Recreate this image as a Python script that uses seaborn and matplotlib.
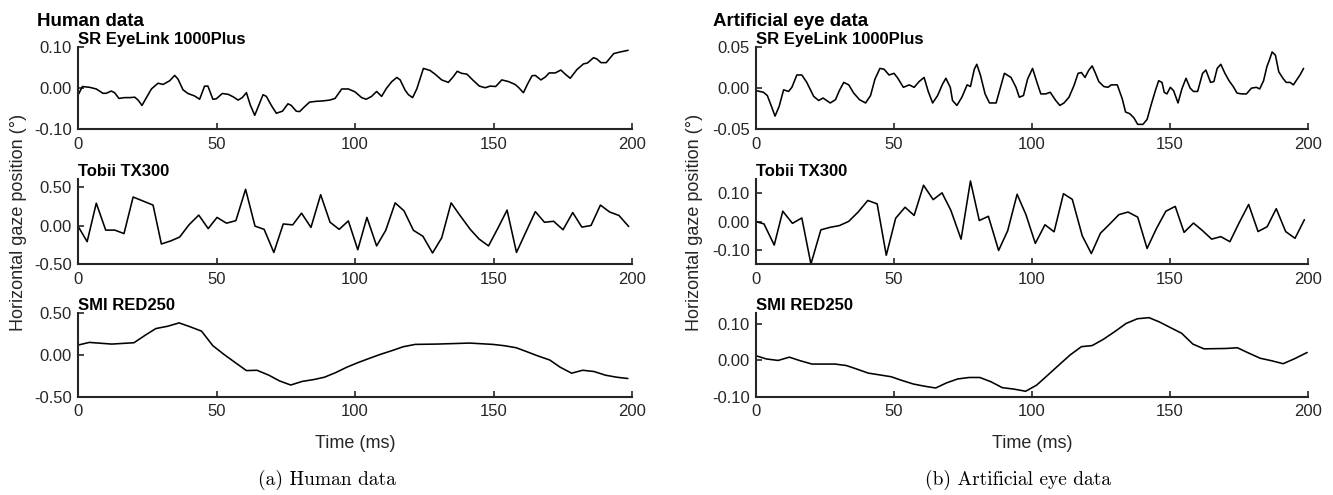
import matplotlib
matplotlib.use("Agg")
import matplotlib.pyplot as plt
import seaborn as sns
import pandas as pd
from matplotlib.ticker import FormatStrFormatter

# ---------------- data ----------------
# Human data – SR EyeLink 1000Plus
human_eyelink_t = [0, 1.6, 4.2, 6.6, 9, 10.2, 12, 13.2, 14.8, 16.8, 18.7, 20.5, 21.7, 23.1, 24.7, 26.5,
                   28.9, 30.7, 33.1, 34.9, 36.1, 37.9, 39.7, 42.1, 43.9, 45.7, 46.9, 48.7, 49.9, 52.1,
                   54.2, 56, 57.8, 59.3, 60.8, 62.2, 63.8, 65.3, 66.8, 68, 69.8, 71.6, 73.8, 75.8, 77,
                   78.8, 80, 81.8, 83.6, 86, 88.4, 90.9,
                   92.8, 95.2, 97.6, 100, 102.4, 104, 106, 107.8, 109.6, 111.4, 113.3, 115.1, 116.3,
                   118.1, 119.3, 120.8, 122.3, 124.7, 127.1, 128.9, 131.3, 133.7, 135.5, 136.9, 138.5,
                   140.4, 142.8, 144.9, 147, 148.8, 150.8, 153, 155.4, 157.8, 159, 160.8, 162.3, 163.9,
                   165.1, 167.1, 168.7, 170.1, 172.3, 174.3, 175.9, 177.7, 180.1, 182.5, 183.9, 186.1,
                   187.3, 188.8, 190.7, 193.4, 195.8, 198.6]
human_eyelink_v = [-0.017, 0.004, 0.002, -0.002, -0.0125, -0.0125, -0.007, -0.011, -0.025, -0.023, -0.023,
                   -0.022, -0.029, -0.042, -0.023, -0.002, 0.012, 0.009, 0.018, 0.031, 0.022, -0.004,
                   -0.013, -0.019, -0.027, 0.005, 0.005, -0.027, -0.026, -0.013, -0.015, -0.021, -0.029,
                   -0.023, -0.011, -0.041, -0.066, -0.041, -0.016, -0.020, -0.042, -0.061, -0.056, -0.038,
                   -0.042, -0.056, -0.057, -0.045, -0.034, -0.032, -0.031, -0.029,
                   -0.025, -0.002, -0.002, -0.009, -0.023, -0.027, -0.020, -0.008, -0.020, 0.0, 0.016,
                   0.026, 0.020, -0.005, -0.016, -0.023, -0.002, 0.048, 0.043, 0.034, 0.020, 0.014, 0.028,
                   0.041, 0.036, 0.034, 0.018, 0.005, 0.001, 0.005, 0.004, 0.020, 0.016, 0.009, 0.002,
                   -0.011, 0.010, 0.030, 0.031, 0.020, 0.027, 0.037, 0.037, 0.044, 0.034, 0.024, 0.045,
                   0.059, 0.061, 0.074, 0.071, 0.062, 0.062, 0.084, 0.088, 0.092]

# Human data – Tobii TX300
human_tobii_t = [0, 3.3, 6.6, 10, 13.3, 16.6, 19.9, 27.1, 30.1, 33.5, 36.7, 40.1, 43.6, 47, 50.2, 53.6,
                 57, 60.5, 63.9, 67.2, 70.7, 74.1, 77.5, 80.7, 84.1, 87.6, 91, 94.3, 97.6, 101, 104.3,
                 107.8, 111.1, 114.5, 117.7, 121.1, 124.5, 128, 131.3, 134.7, 138, 141.6, 144.8, 148.2,
                 151.6, 154.9, 158.3, 161.7, 165.1, 168.4, 171.7, 175.1, 178.6, 181.9, 185.2, 188.6,
                 191.9, 195.3, 198.8]
human_tobii_v = [-0.008, -0.21, 0.29, -0.06, -0.06, -0.105, 0.37, 0.265, -0.24, -0.20, -0.15, 0.01,
                 0.135, -0.04, 0.105, 0.03, 0.063, 0.47, -0.008, -0.05, -0.35, 0.02, 0.008, 0.16, -0.025,
                 0.40, 0.042, -0.05, 0.06, -0.315, 0.105, -0.265, -0.063, 0.294, 0.19, -0.063, -0.139,
                 -0.357, -0.16, 0.294, 0.126, -0.05, -0.176, -0.265, -0.034, 0.20, -0.35, -0.084, 0.18,
                 0.042, 0.055, -0.055, 0.168, -0.021, 0.0, 0.265, 0.176, 0.13, -0.013]

# Human data – SMI RED250
human_smi_t = [0, 4.1, 12.2, 20.2, 24.3, 28.1, 32.4, 36.5, 40.6, 44.6, 48.7, 52.5, 56.6, 60.8, 64.6,
               68.9, 72.7, 76.8, 80.9, 85.2, 89, 93.1, 97, 101.1, 105.2, 109.2, 113.3, 117.4, 121.7,
               129.6, 141.4, 149.8, 154, 158.2, 162, 166.1, 170.3, 174.1, 178.2, 182.2, 186.3, 190.4,
               194.4, 198.5]
human_smi_v = [0.119, 0.151, 0.131, 0.147, 0.238, 0.317, 0.345, 0.385, 0.337, 0.286, 0.111, 0.012,
               -0.087, -0.187, -0.183, -0.242, -0.31, -0.36, -0.317, -0.294, -0.266, -0.21, -0.147,
               -0.091, -0.04, 0.008, 0.052, 0.099, 0.127, 0.131, 0.143, 0.127, 0.111, 0.087, 0.04,
               -0.012, -0.06, -0.147, -0.218, -0.183, -0.198, -0.242, -0.266, -0.282]

# Artificial eye – SR EyeLink 1000Plus
art_eyelink_t = [0, 2.7, 4.1, 5.7, 6.9, 8.4, 10, 11.8, 13, 14.8, 16.6, 18.4, 20.9, 22.7, 24.3, 26.9,
                 28.8, 30.2, 31.8, 33.6, 35.4, 37.5, 39.7, 41.5, 43.1, 44.9, 46.4, 48.2, 50, 51.2, 53.4,
                 55.5, 57.3, 59.1, 60.9, 62.4, 64, 65.8, 67.6, 68.8, 70.4, 71.2, 72.8, 74.6, 76.5, 77.7,
                 79.1, 80, 81.3, 83, 84.6,
                 87, 88.6, 90, 92.4, 94.2, 95.4, 96.9, 98.4, 100.2, 101.8, 103.2, 105, 106.6, 108.6,
                 110.1, 111.6, 113.4, 115.2, 116.7, 117.9, 119.2, 120.6, 121.8, 123, 124.2, 126, 127.5,
                 128.7, 130.9, 132.7, 133.9, 135.4, 136.9, 138.3, 140.2, 141.7, 143.1, 144.7, 145.9,
                 147.1, 147.9, 148.9, 150.1, 151.3, 152.9, 154.3, 155.8, 157.3, 158.5, 160, 161.8, 163,
                 164.7, 165.9, 167.1, 168.4, 169.9, 171.4, 172.9, 174.3, 175.9, 177.7, 179.5, 181.3,
                 182.5, 183.9, 185.1, 186.1, 187, 188.2, 189.4, 190.9, 192.1, 193.5, 194.7, 195.9,
                 197.1, 198.4]
art_eyelink_v = [-0.003, -0.005, -0.009, -0.023, -0.034, -0.022, -0.002, -0.004, 0.001, 0.016, 0.016,
                 0.007, -0.010, -0.015, -0.012, -0.018, -0.014, -0.003, 0.007, 0.004, -0.006, -0.014,
                 -0.018, -0.009, 0.011, 0.024, 0.023, 0.016, 0.018, 0.013, 0.001, 0.004, 0.001, 0.008,
                 0.013, -0.004, -0.018, -0.009, 0.005, 0.012, 0.001, -0.015, -0.021, -0.011, 0.004,
                 0.002, 0.023, 0.029, 0.016, -0.007, -0.018,
                 -0.018, 0.001, 0.018, 0.013, 0.001, -0.011, -0.009, 0.011, 0.024, 0.007, -0.007,
                 -0.007, -0.005, -0.015, -0.021, -0.018, -0.011, 0.003, 0.018, 0.019, 0.013, 0.022,
                 0.027, 0.018, 0.008, 0.002, 0.001, 0.004, 0.004, -0.013, -0.029, -0.031, -0.036,
                 -0.044, -0.044, -0.038, -0.021, -0.003, 0.009, 0.007, -0.005, -0.007, 0.001, -0.003,
                 -0.018, -0.001, 0.012, 0.0, -0.004, -0.004, 0.018, 0.022, 0.007, 0.008, 0.024, 0.029,
                 0.018, 0.009, 0.002, -0.006, -0.007, -0.007, 0.0, 0.001, -0.001, 0.009, 0.026, 0.035,
                 0.044, 0.040, 0.020, 0.012, 0.007, 0.007, 0.004, 0.010, 0.016, 0.024]

# Artificial eye – Tobii TX300
art_tobii_t = [0, 2.9, 6.6, 9.7, 13.2, 16.6, 19.9, 23.5, 26.9, 30.2, 33.6, 37, 40.5, 43.9, 47.2, 50.6,
               54, 57.3, 60.7, 64.2, 67.4, 70.6, 74.3, 77.7, 80.9, 84.2, 87.9, 91.2, 94.6, 97.8, 101.2,
               104.7, 108, 111.4, 114.6, 118.2, 121.5, 124.8, 128.2, 131.5, 134.8, 138.3, 141.7, 145,
               148.5, 151.9, 155.1, 158.5, 161.8, 165.1, 168.4, 171.7, 175, 178.5, 181.9, 185.2, 188.5,
               191.9, 195.3, 198.7]
art_tobii_v = [0.0, -0.008, -0.083, 0.037, -0.006, 0.013, -0.15, -0.029, -0.020, -0.014, 0.001, 0.034,
               0.075, 0.063, -0.119, 0.012, 0.051, 0.022, 0.129, 0.078, 0.102, 0.040, -0.062, 0.144,
               0.004, 0.019, -0.102, -0.032, 0.097, 0.025, -0.077, -0.011, -0.036, 0.099, 0.079,
               -0.050, -0.113, -0.041, -0.008, 0.025, 0.034, 0.016, -0.095, -0.026, 0.037, 0.054,
               -0.038, -0.005, -0.032, -0.062, -0.053, -0.071, -0.005, 0.061, -0.035, -0.018, 0.046,
               -0.035, -0.059, 0.007]

# Artificial eye – SMI RED250
art_smi_t = [0, 3.8, 8, 12.1, 16.1, 20.3, 28.6, 32.7, 36.6, 40.7, 44.9, 49, 52.8, 57, 61, 65.1, 69,
             73.1, 77.2, 81.1, 85.2, 89.2, 93.4, 97.7, 101.7, 105.5, 109.7, 113.8, 117.9, 121.8,
             125.8, 129.9, 134.1, 138.2, 142.4, 146.2, 150.3, 154.2, 158.3, 162.3, 170.3, 174.4,
             178.6, 182.7, 186.9, 191, 195.2, 199.7]
art_smi_v = [0.013, 0.004, 0.0, 0.009, -0.001, -0.010, -0.010, -0.014, -0.024, -0.035, -0.040,
             -0.045, -0.055, -0.065, -0.071, -0.076, -0.062, -0.051, -0.047, -0.047, -0.059, -0.075,
             -0.079, -0.085, -0.068, -0.042, -0.013, 0.015, 0.038, 0.041, 0.058, 0.079, 0.102, 0.115,
             0.118, 0.106, 0.090, 0.075, 0.045, 0.032, 0.033, 0.035, 0.020, 0.006, -0.001, -0.009,
             0.005, 0.022]

tracker_names = ["SR EyeLink 1000Plus", "Tobii TX300", "SMI RED250"]
group_titles = ["Human data", "Artificial eye data"]
captions = ["(a) Human data", "(b) Artificial eye data"]
x_ticks = [0, 50, 100, 150, 200]
y_lims = [[(-0.10, 0.10), (-0.50, 0.60), (-0.50, 0.50)],
          [(-0.05, 0.05), (-0.15, 0.15), (-0.10, 0.13)]]
y_ticks = [[[-0.10, 0.0, 0.10], [-0.50, 0.0, 0.50], [-0.50, 0.0, 0.50]],
           [[-0.05, 0.0, 0.05], [-0.10, 0.0, 0.10], [-0.10, 0.0, 0.10]]]

series = [[(human_eyelink_t, human_eyelink_v), (human_tobii_t, human_tobii_v), (human_smi_t, human_smi_v)],
          [(art_eyelink_t, art_eyelink_v), (art_tobii_t, art_tobii_v), (art_smi_t, art_smi_v)]]

# ---------------- style ----------------
sns.set_theme(style="ticks")
plt.rcParams["font.family"] = ["Liberation Sans", "DejaVu Sans"]
plt.rcParams["axes.unicode_minus"] = False

DARK = "#262626"
W, H = 1333, 495
fig = plt.figure(figsize=(W / 100, H / 100), dpi=100)
fig.patch.set_facecolor("white")

col_px = [(78, 632), (756, 1308)]
row_px = [(47, 129.3), (179.3, 264), (313.3, 396.7)]

for c in range(2):
    for r in range(3):
        x0, x1 = col_px[c]
        y0, y1 = row_px[r]
        ax = fig.add_axes([x0 / W, 1 - y1 / H, (x1 - x0) / W, (y1 - y0) / H])
        t, v = series[c][r]
        df = pd.DataFrame({"t": t, "v": v})
        sns.lineplot(data=df, x="t", y="v", ax=ax, color="black", linewidth=1.15,
                     estimator=None, sort=False)
        ax.set_xlim(0, 200)
        ax.set_ylim(*y_lims[c][r])
        ax.set_xticks(x_ticks)
        ax.set_yticks(y_ticks[c][r])
        ax.yaxis.set_major_formatter(FormatStrFormatter("%.2f"))
        ax.set_xlabel("")
        ax.set_ylabel("")
        for s in ["top", "right"]:
            ax.spines[s].set_visible(False)
        for s in ["left", "bottom"]:
            ax.spines[s].set_color(DARK)
            ax.spines[s].set_linewidth(1.5)
        ax.tick_params(axis="both", direction="in", length=4, width=1.2, colors=DARK,
                       labelsize=12)
        ax.tick_params(axis="x", pad=5.5)
        ax.tick_params(axis="y", pad=4.5)
        ax.set_facecolor("none")
        ax.set_title(tracker_names[r], loc="left", fontweight="bold", fontsize=12,
                     pad=2.5, color="black")

# group titles
fig.text(37 / W, 1 - 25.7 / H, group_titles[0], fontweight="bold", fontsize=13.5,
         va="baseline", ha="left", color="black")
fig.text(713 / W, 1 - 25.7 / H, group_titles[1], fontweight="bold", fontsize=13.5,
         va="baseline", ha="left", color="black")

# y labels
for xc in [18.5, 694.5]:
    fig.text(xc / W, 1 - 222 / H, "Horizontal gaze position (°)", rotation=90,
             va="center", ha="center", fontsize=13, color=DARK)

# x labels
for xc in [355, 1032]:
    fig.text(xc / W, 1 - 443 / H, "Time (ms)", va="center", ha="center",
             fontsize=13, color=DARK)

# captions
fig.text(258 / W, 1 - 480 / H, captions[0], family="cmr10", fontsize=14,
         va="center", ha="left", color="black")
fig.text(925 / W, 1 - 480 / H, captions[1], family="cmr10", fontsize=14,
         va="center", ha="left", color="black")

fig.savefig("out.png", dpi=100, facecolor="white")
